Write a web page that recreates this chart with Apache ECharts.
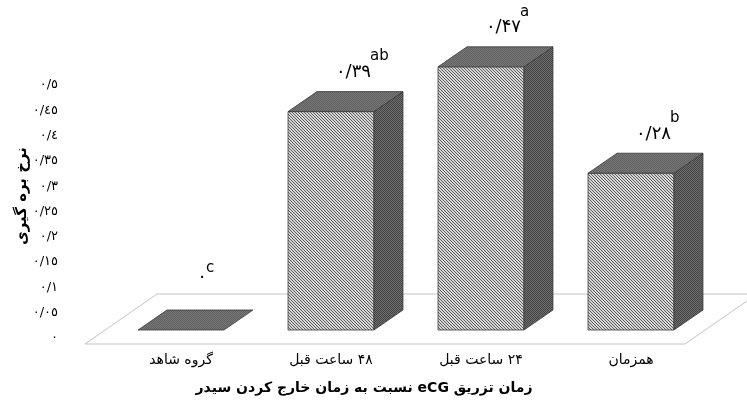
<!DOCTYPE html>
<html>
<head>
<meta charset="utf-8">
<script src="https://cdn.jsdelivr.net/npm/echarts@6/dist/echarts.min.js"></script>
<style>
html,body{margin:0;padding:0;background:#fff;}
#chart{width:747px;height:403px;}
</style>
</head>
<body>
<div id="chart" dir="rtl"></div>
<script>
// ---- data ----
const categories = ['گروه شاهد', '۴۸ ساعت قبل', '۲۴ ساعت قبل', 'همزمان'];
const rates = [0, 0.39, 0.47, 0.28];
const groupLetters = ['c', 'ab', 'a', 'b'];
const yTickLabels = ['٠', '٠/٠٥', '٠/١', '٠/١٥', '٠/٢', '٠/٢٥', '٠/٣', '٠/٣٥', '٠/٤', '٠/٤٥', '٠/٥'];
const xTitle = 'زمان تزریق eCG نسبت به زمان خارج کردن سیدر';
const yTitle = 'نرخ بره گیری';

// ---- helpers ----
const FONT = 'DejaVu Sans';
function toFa(v) {
  const fa = '۰۱۲۳۴۵۶۷۸۹';
  if (v === 0) return '۰';
  return v.toFixed(2).replace(/0+$/, '').replace('.', '/').replace(/[0-9]/g, d => fa[+d]);
}
function makePattern(size, draw) {
  const c = document.createElement('canvas');
  c.width = size; c.height = size;
  const ctx = c.getContext('2d');
  draw(ctx, size);
  return { image: c, repeat: 'repeat' };
}
const frontPat = makePattern(3, (ctx, s) => {
  ctx.fillStyle = '#d6d6d6'; ctx.fillRect(0, 0, s, s);
  ctx.fillStyle = '#5c5c5c';
  for (let i = 0; i < s; i++) ctx.fillRect(i, i, 1, 1);
});
const topPat = makePattern(2, (ctx, s) => {
  ctx.fillStyle = '#767676'; ctx.fillRect(0, 0, s, s);
  ctx.fillStyle = '#626262'; ctx.fillRect(0, 0, 1, 1); ctx.fillRect(1, 1, 1, 1);
});
const sidePat = makePattern(2, (ctx, s) => {
  ctx.fillStyle = '#6e6e6e'; ctx.fillRect(0, 0, s, s);
  ctx.fillStyle = '#444444'; ctx.fillRect(0, 0, 1, 1); ctx.fillRect(1, 1, 1, 1);
});

const DX = 29, DY = -20;         // bar depth offset

const chart = echarts.init(document.getElementById('chart'), null, { renderer: 'canvas' });

const option = {
  animation: false,
  backgroundColor: '#fff',
  grid: [
    { left: 66, right: 41, top: 85, bottom: 65 },
    { left: 106, right: 41, top: 50, bottom: 73 }
  ],
  xAxis: [
    { gridIndex: 0, type: 'category', data: categories, show: false },
    {
      gridIndex: 1, type: 'category', data: categories,
      axisLine: { show: false }, axisTick: { show: false },
      axisLabel: { margin: 23, fontFamily: FONT, fontSize: 14, color: '#000' }
    }
  ],
  yAxis: [
    {
      gridIndex: 0, type: 'value', min: 0, max: 0.5, interval: 0.05,
      axisLine: { show: false }, axisTick: { show: false }, splitLine: { show: false },
      axisLabel: {
        margin: 8, fontFamily: FONT, fontSize: 13, color: '#000',
        formatter: v => yTickLabels[Math.round(v / 0.05)]
      }
    },
    {
      gridIndex: 1, type: 'value', min: 0, max: 0.5, show: false
    }
  ],
  graphic: [
    {
      type: 'text', x: 364, y: 388,
      style: { text: xTitle, font: 'bold 14px ' + FONT, align: 'center', verticalAlign: 'middle', fill: '#000' }
    },
    {
      type: 'text', x: 22, y: 196, rotation: Math.PI / 2,
      style: { text: yTitle, font: 'bold 15px ' + FONT, align: 'center', verticalAlign: 'middle', fill: '#000' }
    }
  ],
  series: [
    {
      // floor
      type: 'custom', xAxisIndex: 1, yAxisIndex: 1, z: 1,
      data: [[0, 0]],
      renderItem: function (params, api) {
        const cs = params.coordSys;
        const y0 = cs.y + cs.height;
        const l = cs.x, r = cs.x + cs.width;
        return {
          type: 'polygon',
          shape: { points: [
            [l - 21, y0 + 14], [r - 21, y0 + 14],
            [r + 51, y0 - 36], [l + 51, y0 - 36]
          ] },
          style: { fill: '#fff', stroke: '#c4c4c4', lineWidth: 1 }
        };
      }
    },
    {
      type: 'custom', xAxisIndex: 1, yAxisIndex: 1, z: 2,
      data: rates.map((v, i) => [i, v]),
      renderItem: function (params, api) {
        const i = api.value(0), v = api.value(1);
        const base = api.coord([i, 0]);
        const top = api.coord([i, v]);
        const w = api.size([1, 0])[0] * 0.573;
        const cx = base[0], y0 = base[1], yt = top[1];
        const L = cx - w / 2, R = cx + w / 2;
        const edge = { stroke: '#3a3a3a', lineWidth: 0.8 };
        const children = [];
        if (y0 - yt > 0.5) {
          children.push({ type: 'rect', shape: { x: L, y: yt, width: w, height: y0 - yt },
            style: Object.assign({ fill: frontPat }, edge) });
          children.push({ type: 'polygon', shape: { points: [[R, yt], [R + DX, yt + DY], [R + DX, y0 + DY], [R, y0]] },
            style: Object.assign({ fill: sidePat }, edge) });
        }
        children.push({ type: 'polygon', shape: { points: [[L, yt], [L + DX, yt + DY], [R + DX, yt + DY], [R, yt]] },
          style: Object.assign({ fill: topPat }, edge) });
        const backTop = yt + DY;
        const zero = v === 0;
        const ax = zero ? cx + 26 : cx + 40;
        const ay = zero ? backTop - 33 : backTop - 19;
        children.push({ type: 'text', x: ax, y: ay,
          style: { text: toFa(v), fontFamily: FONT, fontSize: 18, fill: '#000', align: 'right', verticalAlign: 'middle' } });
        children.push({ type: 'text', x: ax - 1, y: ay - (zero ? 9 : 16),
          style: { text: groupLetters[params.dataIndex], fontFamily: FONT, fontSize: 15, fill: '#000', align: 'left', verticalAlign: 'middle' } });
        return { type: 'group', children: children };
      }
    }
  ]
};
chart.setOption(option);
</script>
</body>
</html>
